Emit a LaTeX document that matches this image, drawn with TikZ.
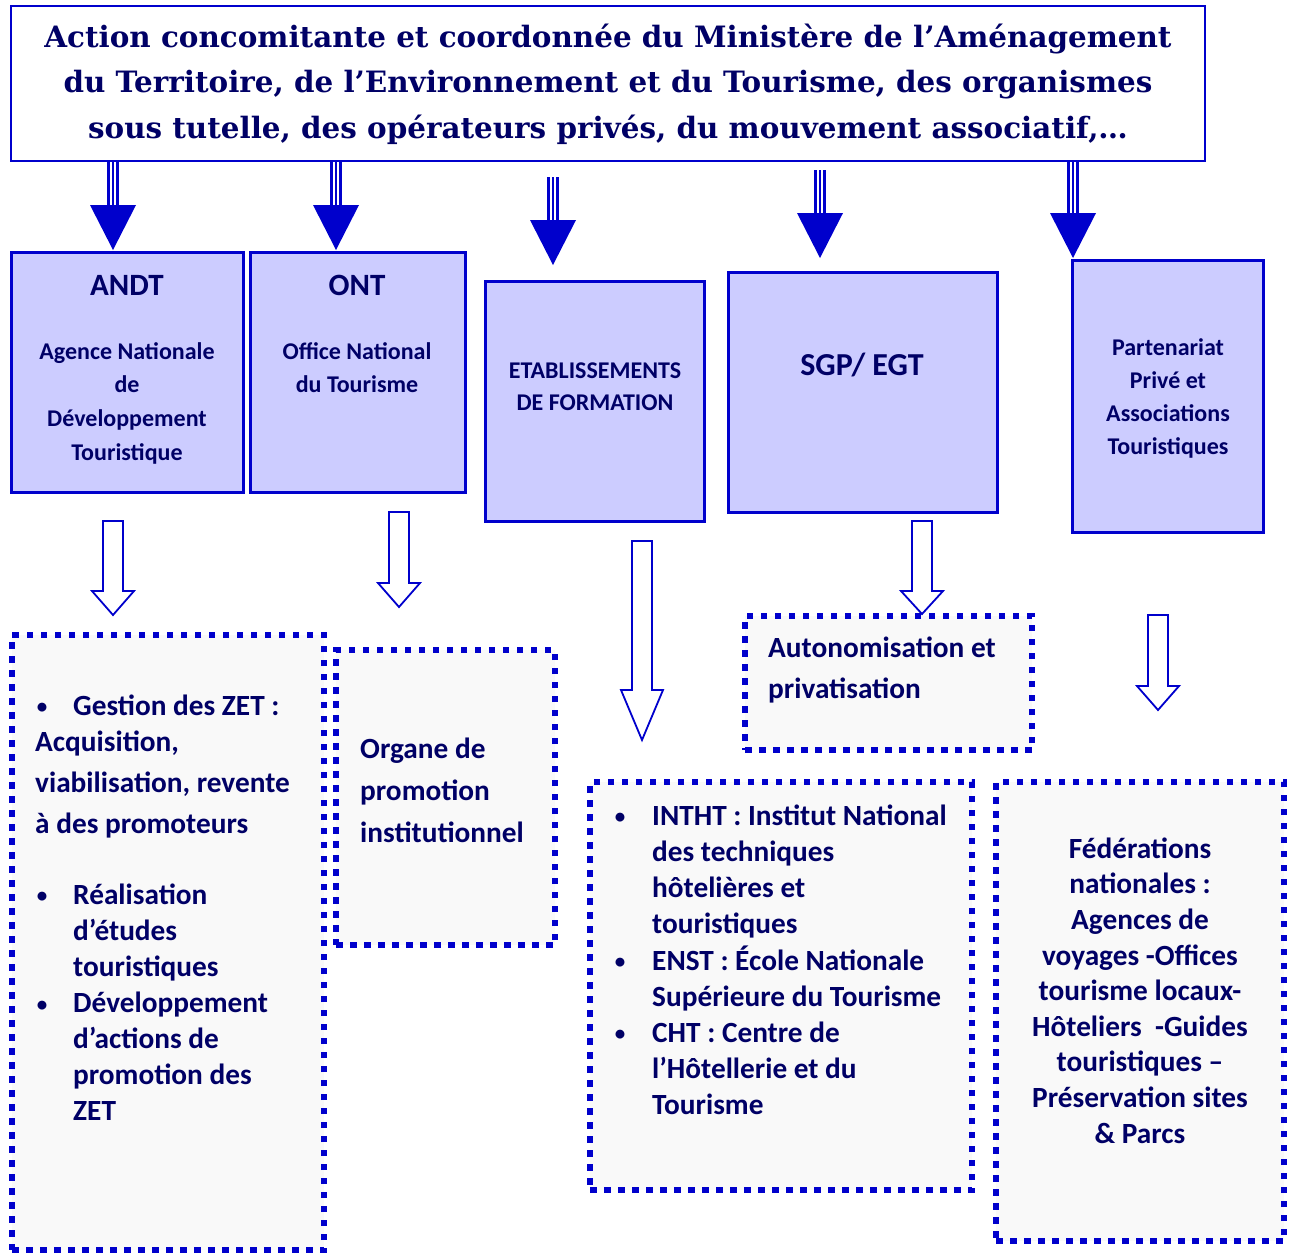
\documentclass[tikz,border=0pt]{standalone}
\usepackage{fontspec}
\setmainfont{Carlito}
\newfontfamily\titlefont{DejaVu Serif}
\usetikzlibrary{calc}

\definecolor{boxblue}{HTML}{0000CC}
\definecolor{boxfill}{HTML}{CCCCFF}
\definecolor{navy}{HTML}{000066}
\definecolor{notefill}{HTML}{F9F9F9}

% body text size, #1 = leading
\newcommand{\bodysize}[1]{\bfseries\fontsize{29.3}{#1}\selectfont}
\newcommand{\boxsize}[1]{\bfseries\fontsize{24}{#1}\selectfont}
\newcommand{\dotsize}{\bfseries\fontsize{21}{36}\selectfont}

% solid arrow with a triple shaft, #1 = start, #2 = tip
\newcommand{\heavyarrow}[2]{%
  \fill[boxblue] ($(#1)+(-6,0)$) rectangle ($(#2)+(6,-44)$);
  \draw[white, line width=1.2pt] ($(#1)+(-2,0)$) -- ($(#2)+(-2,-44)$);
  \draw[white, line width=1.2pt] ($(#1)+(2,0)$) -- ($(#2)+(2,-44)$);
  \fill[boxblue] (#2) -- ($(#2)+(-23,-45)$) -- ($(#2)+(23,-45)$) -- cycle;
}
% hollow arrow, #1 = start, #2 = tip, #3 = head length
\newcommand{\hollowarrow}[3]{%
  \draw[boxblue, line width=1.8pt, fill=white, line join=miter]
    ($(#1)+(-10,0)$) -- ($(#2)+(-10,-#3)$) -- ($(#2)+(-21,-#3)$) -- (#2)
    -- ($(#2)+(21,-#3)$) -- ($(#2)+(10,-#3)$) -- ($(#1)+(10,0)$) -- cycle;
}

\begin{document}
\begin{tikzpicture}[x=1pt, y=-1pt,
  topbox/.style={draw=boxblue, line width=3pt, fill=boxfill, inner sep=0pt},
  notebox/.style={draw=boxblue, line width=6.5pt, dash pattern=on 6.5pt off 7.5pt,
    fill=notefill, inner sep=0pt},
  txt/.style={inner sep=0pt, text=navy, font=\bfseries}]
  \useasboundingbox (0,0) rectangle (1292,1254);

  % ministry box on top
  \node[draw=boxblue, line width=2pt, fill=white, minimum width=1194,
    minimum height=155, inner sep=0pt] (title) at (608,83.5) {};
  \node[txt, anchor=north, align=center,
    font=\titlefont\bfseries\fontsize{29.4}{45.5}\selectfont] (title-text) at (608,15.2)
    {\strut Action concomitante et coordonnée du Ministère de l’Aménagement\\
     du Territoire, de l’Environnement et du Tourisme, des organismes\\
     sous tutelle, des opérateurs privés, du mouvement associatif,…};

  % the five bodies
  \node[topbox, minimum width=232, minimum height=240] (andt) at (127,372) {};
  \node[topbox, minimum width=215, minimum height=240] (ont) at (357.5,372) {};
  \node[topbox, minimum width=219, minimum height=240] (etab) at (594.5,401) {};
  \node[topbox, minimum width=269, minimum height=240] (sgp) at (862.5,392) {};
  \node[topbox, minimum width=191, minimum height=272] (ppat) at (1167.5,396) {};

  \node[txt, anchor=base, font=\bfseries\fontsize{31}{36}\selectfont] (andt-name) at (127,295) {ANDT};
  \node[txt, anchor=north, align=center, font=\boxsize{33.7}] (andt-text) at (127,335.4)
    {\strut Agence Nationale\\de\\Développement\\Touristique};
  \node[txt, anchor=base, font=\bfseries\fontsize{31}{36}\selectfont] (ont-name) at (357,295) {ONT};
  \node[txt, anchor=north, align=center, font=\boxsize{33.7}] (ont-text) at (357,335.4)
    {\strut Office National\\du Tourisme};
  \node[txt, anchor=north, align=center, font=\boxsize{32}] (etab-text) at (595,355.6)
    {\strut ETABLISSEMENTS\\DE FORMATION};
  \node[txt, anchor=base, font=\bfseries\fontsize{32}{36}\selectfont] (sgp-name) at (862,375) {SGP/ EGT};
  \node[txt, anchor=north, align=center, font=\boxsize{33}] (ppat-text) at (1168,331.9)
    {\strut Partenariat\\Privé et\\Associations\\Touristiques};

  % dotted boxes below
  \node[notebox, minimum width=312, minimum height=615] (zet) at (168,942.5) {};
  \node[notebox, minimum width=219, minimum height=295] (promo) at (445.5,797.5) {};
  \node[notebox, minimum width=287, minimum height=134] (auto) at (888.5,683) {};
  \node[notebox, minimum width=382, minimum height=408] (ecoles) at (781,986) {};
  \node[notebox, minimum width=288, minimum height=459] (feder) at (1140,1011.5) {};

  % ANDT tasks
  \node[txt, anchor=base, font=\dotsize] (zet-b1) at (42,713) {•};
  \node[txt, anchor=base west, font=\bodysize{36}] (zet-1) at (73,715) {Gestion des ZET :};
  \node[txt, anchor=north west, align=left, font=\bodysize{41}] (zet-1b) at (35,722.3)
    {\strut Acquisition,\\viabilisation, revente\\à des promoteurs};
  \node[txt, anchor=base, font=\dotsize] (zet-b2) at (42,902) {•};
  \node[txt, anchor=base, font=\dotsize] (zet-b3) at (42,1011) {•};
  \node[txt, anchor=north west, align=left, font=\bodysize{36}] (zet-2) at (73,878.8)
    {\strut Réalisation\\d’études\\touristiques\\Développement\\d’actions de\\promotion des\\ZET};

  \node[txt, anchor=north west, align=left, font=\bodysize{42}] (promo-text) at (360,728.6)
    {\strut Organe de\\promotion\\institutionnel};
  \node[txt, anchor=north west, align=left, font=\bodysize{41}] (auto-text) at (768,628.3)
    {\strut Autonomisation et\\privatisation};

  % training schools
  \node[txt, anchor=base, font=\dotsize] (ecoles-b1) at (620,823) {•};
  \node[txt, anchor=base, font=\dotsize] (ecoles-b2) at (620,968) {•};
  \node[txt, anchor=base, font=\dotsize] (ecoles-b3) at (620,1040) {•};
  \node[txt, anchor=north west, align=left, font=\bodysize{36.2}] (ecoles-text) at (652,799.7)
    {\strut INTHT : Institut National\\des techniques\\hôtelières et\\touristiques\\
     ENST : École Nationale\\Supérieure du Tourisme\\CHT : Centre de\\
     l’Hôtellerie et du\\Tourisme};

  \node[txt, anchor=north, align=center, font=\bodysize{35.6}] (feder-text) at (1140,833.1)
    {\strut Fédérations\\nationales :\\Agences de\\voyages -Offices\\tourisme locaux-\\
     Hôteliers~ -Guides\\touristiques –\\Préservation sites\\\& Parcs};

  % arrows from the ministry
  \foreach \x/\ya/\yb [count=\i] in {113/162/250, 336/162/250, 553/177/265,
      820/170/258, 1073/162/258} {
    \coordinate (top\i) at (\x,\ya);
    \coordinate (tip\i) at (\x,\yb);
    \heavyarrow{top\i}{tip\i}
  }

  % arrows down to the tasks
  \coordinate (andt-out) at (113,521);  \coordinate (zet-in) at (113,615);
  \coordinate (ont-out) at (399,512);   \coordinate (promo-in) at (399,607);
  \coordinate (etab-out) at (642,541);  \coordinate (ecoles-in) at (642,740);
  \coordinate (sgp-out) at (922,521);   \coordinate (auto-in) at (922,614);
  \coordinate (ppat-out) at (1158,615); \coordinate (feder-in) at (1158,710);
  \hollowarrow{andt-out}{zet-in}{24}
  \hollowarrow{ont-out}{promo-in}{24}
  \hollowarrow{etab-out}{ecoles-in}{50}
  \hollowarrow{sgp-out}{auto-in}{23}
  \hollowarrow{ppat-out}{feder-in}{24}
\end{tikzpicture}
\end{document}
